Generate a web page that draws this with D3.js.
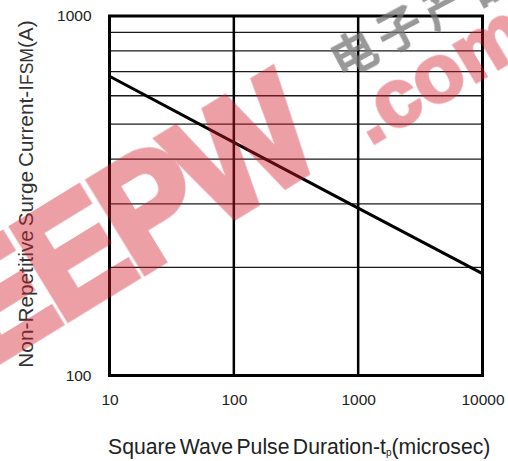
<!DOCTYPE html>
<html>
<head>
<meta charset="utf-8">
<script src="https://cdn.jsdelivr.net/npm/d3@7"></script>
<style>
  html, body { margin: 0; padding: 0; background: #fff; }
  svg { display: block; font-family: "Liberation Sans", Arial, sans-serif; }
</style>
</head>
<body>
<div id="chart"></div>
<script>
// pulse duration (microsec) vs non-repetitive surge current (A)
const pulseDuration = [10, 100, 1000, 10000];
const surgeCurrent = [680, 445, 292, 192];

const xTicks = [10, 100, 1000, 10000];
const yTicks = [100, 1000];
const xGridValues = [100, 1000];
const yGridValues = [200, 300, 400, 500, 600, 700, 800, 900];

const width = 508, height = 461;
const margin = { top: 16, right: 25.5, bottom: 85.5, left: 109.5 };

const x = d3.scaleLog()
  .domain([10, 10000])
  .range([margin.left, width - margin.right]);

const y = d3.scaleLog()
  .domain([100, 1000])
  .range([height - margin.bottom, margin.top]);

const svg = d3.select("#chart").append("svg")
  .attr("width", width)
  .attr("height", height)
  .attr("viewBox", [0, 0, width, height]);

// horizontal grid (thin)
svg.append("g")
  .selectAll("line")
  .data(yGridValues)
  .join("line")
  .attr("x1", x.range()[0])
  .attr("x2", x.range()[1])
  .attr("y1", (d) => y(d))
  .attr("y2", (d) => y(d))
  .attr("stroke", "#1a1a1a")
  .attr("stroke-width", 1.3);

// vertical grid (decades, heavier)
svg.append("g")
  .selectAll("line")
  .data(xGridValues)
  .join("line")
  .attr("x1", (d) => x(d))
  .attr("x2", (d) => x(d))
  .attr("y1", y.range()[0])
  .attr("y2", y.range()[1])
  .attr("stroke", "#000")
  .attr("stroke-width", 2.5);

// frame
svg.append("rect")
  .attr("x", x.range()[0])
  .attr("y", y.range()[1])
  .attr("width", x.range()[1] - x.range()[0])
  .attr("height", y.range()[0] - y.range()[1])
  .attr("fill", "none")
  .attr("stroke", "#000")
  .attr("stroke-width", 3);

// the curve
const line = d3.line()
  .x((d, i) => x(pulseDuration[i]))
  .y((d) => y(d));

svg.append("path")
  .datum(surgeCurrent)
  .attr("fill", "none")
  .attr("stroke", "#000")
  .attr("stroke-width", 3)
  .attr("d", line);

// axes, labels only
const xAxisG = svg.append("g")
  .attr("transform", `translate(0,${y.range()[0]})`)
  .call(d3.axisBottom(x).tickValues(xTicks).tickFormat(d3.format("d")).tickSize(0).tickPadding(18))
  .attr("font-family", null)
  .call((g) => g.select(".domain").remove());

xAxisG.selectAll(".tick text")
  .attr("font-size", 15.5)
  .attr("fill", "#222");

const yAxisG = svg.append("g")
  .attr("transform", `translate(${x.range()[0]},0)`)
  .call(d3.axisLeft(y).tickValues(yTicks).tickFormat(d3.format("d")).tickSize(0).tickPadding(18))
  .attr("font-family", null)
  .call((g) => g.select(".domain").remove());

yAxisG.selectAll(".tick text")
  .attr("font-size", 15.5)
  .attr("fill", "#222");

// x title with subscript p
const xTitle = svg.append("text")
  .attr("x", 108)
  .attr("y", 453.5)
  .attr("font-size", 21.2)
  .attr("word-spacing", -2.5)
  .attr("fill", "#222");
xTitle.append("tspan").text("Square Wave Pulse Duration-t");
xTitle.append("tspan").attr("font-size", 10).attr("dy", 2).text("p");
xTitle.append("tspan").attr("dy", -2).text("(microsec)");

// y title, FSM a bit smaller
const yTitle = svg.append("text")
  .attr("transform", "translate(33,194) rotate(-90)")
  .attr("text-anchor", "middle")
  .attr("font-size", 20.8)
  .attr("word-spacing", -2)
  .attr("fill", "#333");
yTitle.append("tspan").text("Non-Repetitive Surge Current-I");
yTitle.append("tspan").attr("font-size", 17.5).text("FSM");
yTitle.append("tspan").text("(A)");

// watermark on top
const wmRed = svg.append("g")
  .attr("pointer-events", "none")
  .attr("opacity", 0.42)
  .attr("font-family", "Liberation Sans, Arial, sans-serif")
  .attr("font-weight", "bold")
  .attr("fill", "rgb(210,30,45)")
  .attr("stroke", "rgb(210,30,45)")
  .attr("stroke-linejoin", "miter");

wmRed.append("text")
  .attr("transform", "translate(-16,370) rotate(-31.5) scale(1,1.08)")
  .attr("font-size", 142)
  .attr("letter-spacing", -5)
  .attr("stroke-width", 7)
  .text("EEPW");

wmRed.append("text")
  .attr("transform", "translate(370,146) rotate(-31)")
  .attr("font-size", 82)
  .attr("stroke-width", 3)
  .text(".com");

svg.append("text")
  .attr("pointer-events", "none")
  .attr("transform", "translate(341,79) rotate(-28)")
  .attr("font-family", "Noto Sans CJK SC, sans-serif")
  .attr("font-weight", "bold")
  .attr("font-size", 46)
  .attr("letter-spacing", 6)
  .attr("fill", "#777")
  .attr("fill-opacity", 0.75)
  .text("电子产品世界");
</script>
</body>
</html>
